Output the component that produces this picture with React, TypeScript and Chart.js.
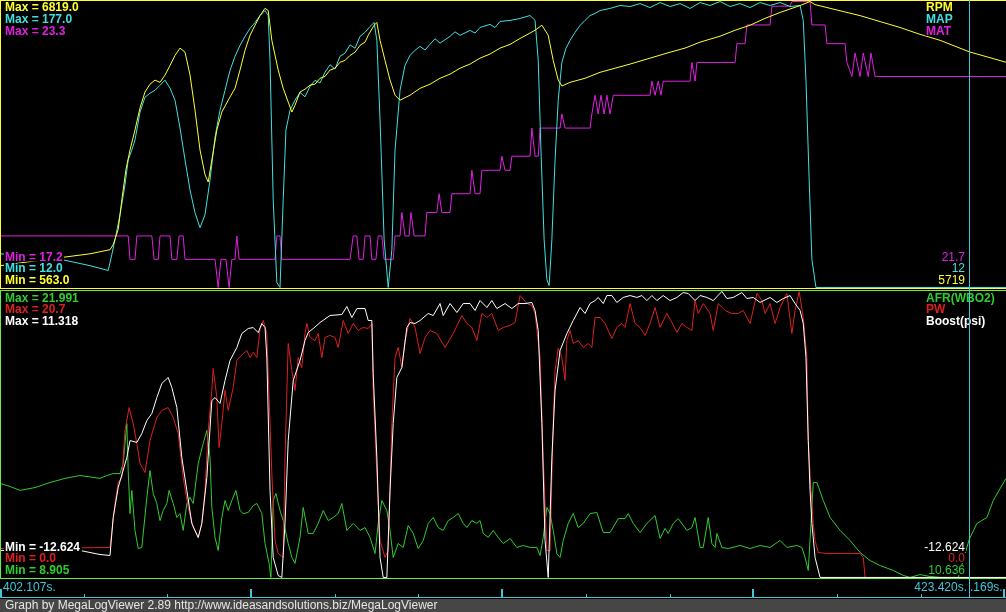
import { useEffect, useRef } from "react";
import { Chart, registerables } from "chart.js";

Chart.register(...registerables);

// ---------- time base (seconds since log window start) ----------
const startTime = 402.107;
const endTime = 424.169;
const cursorTime = 21.313; // 423.420 s
const windowSpan = 22.13;
const minorTickStep = 1.841;
const majorEvery = 3;

// ---------- scale limits shown in the labels ----------
const rpmRange = [563.0, 6819.0];
const mapRange = [12.0, 177.0];
const matRange = [17.2, 23.3];
const afrRange = [8.905, 21.991];
const pwRange = [0.0, 20.7];
const boostRange = [-12.624, 11.318];

// values at cursor
const cursorTop = ["21.7", "12", "5719"];
const cursorBottom = ["-12.624", "0.0", "10.636"];

// ---------- series: [time s, value] ----------
const rpm: [number, number][] = [
  [0, 1040], [0.66, 1130], [1.36, 1220], [1.98, 1300], [2.42, 1390], [2.49, 1500], [2.6, 1830], [2.68, 2480],
  [2.77, 3140], [2.86, 3570], [2.97, 4010], [3.08, 4490], [3.19, 4840], [3.3, 5010], [3.41, 5100], [3.52, 5050],
  [3.63, 5210], [3.74, 5420], [3.85, 5640], [3.96, 5800], [4.07, 5710], [4.18, 5210], [4.29, 4440], [4.4, 3570],
  [4.51, 3030], [4.58, 2870], [4.66, 3350], [4.77, 4010], [4.88, 4400], [5.02, 4660], [5.17, 4920], [5.28, 5320],
  [5.39, 5750], [5.5, 6080], [5.61, 6300], [5.72, 6510], [5.83, 6670], [5.9, 6620], [5.98, 5970], [6.12, 5320],
  [6.23, 4920], [6.34, 4620], [6.42, 4400], [6.49, 4550], [6.6, 4840], [6.71, 4900], [6.82, 4990], [6.93, 5010],
  [7.04, 5140], [7.15, 5180], [7.26, 5320], [7.37, 5360], [7.48, 5490], [7.59, 5530], [7.7, 5640], [7.81, 5710],
  [7.92, 5860], [8.03, 5930], [8.1, 6080], [8.23, 6300], [8.29, 6360], [8.36, 5970], [8.47, 5530], [8.58, 5100],
  [8.69, 4770], [8.8, 4660], [9.02, 4770], [9.24, 4920], [9.46, 5010], [9.68, 5140], [9.9, 5230], [10.12, 5360],
  [10.34, 5450], [10.56, 5580], [10.78, 5670], [11.0, 5800], [11.22, 5880], [11.44, 6010], [11.77, 6190],
  [11.92, 6300], [12.06, 6080], [12.17, 5530], [12.28, 5100], [12.36, 4970], [12.54, 5050], [12.87, 5140],
  [13.2, 5270], [13.53, 5360], [13.86, 5450], [14.3, 5580], [14.74, 5710], [15.07, 5800], [15.4, 5930],
  [15.84, 6060], [16.17, 6190], [16.5, 6300], [16.83, 6450], [17.16, 6580], [17.6, 6730], [17.82, 6819],
  [17.93, 6750], [18.26, 6670], [18.92, 6510], [19.36, 6380], [19.8, 6250], [20.24, 6100], [20.68, 5970],
  [21.32, 5719], [22.13, 5490],
];

const map: [number, number][] = [
  [0, 31.5], [0.66, 29.8], [1.36, 28.1], [1.98, 24.6], [2.38, 21.8], [2.46, 31.0], [2.53, 39.6], [2.64, 54.0],
  [2.75, 71.2], [2.82, 85.6], [2.9, 91.3], [2.97, 97.1], [3.08, 113.2], [3.19, 121.8], [3.3, 124.1], [3.41, 125.8],
  [3.52, 128.7], [3.63, 131.6], [3.74, 127.0], [3.85, 120.1], [3.96, 104.0], [4.07, 85.6], [4.18, 68.3],
  [4.29, 55.1], [4.4, 46.5], [4.51, 54.0], [4.62, 74.1], [4.73, 98.8], [4.84, 114.3], [4.95, 125.8],
  [5.06, 137.3], [5.17, 145.4], [5.28, 151.7], [5.39, 156.9], [5.5, 161.5], [5.61, 164.9], [5.72, 168.9],
  [5.83, 171.8], [5.9, 168.9], [5.94, 143.1], [6.01, 62.6], [6.09, 14.9], [6.16, 12.0], [6.23, 62.6],
  [6.29, 102.8], [6.38, 114.3], [6.49, 120.1], [6.6, 124.5], [6.71, 122.0], [6.82, 128.1], [6.93, 131.5],
  [7.04, 130.0], [7.15, 136.2], [7.26, 140.5], [7.37, 138.0], [7.48, 145.4], [7.59, 147.2], [7.7, 152.0],
  [7.81, 150.0], [7.92, 156.9], [8.03, 159.2], [8.14, 162.6], [8.23, 164.9], [8.29, 154.6], [8.36, 108.6],
  [8.45, 39.6], [8.54, 12.0], [8.62, 33.8], [8.69, 91.3], [8.8, 125.8], [8.91, 140.2], [9.02, 146.0],
  [9.13, 148.8], [9.24, 151.1], [9.35, 149.0], [9.46, 152.3], [9.57, 155.5], [9.68, 153.0], [9.9, 156.9],
  [10.01, 159.5], [10.12, 157.5], [10.34, 160.3], [10.45, 158.8], [10.56, 162.0], [10.78, 163.8], [10.89, 162.0],
  [11.0, 165.5], [11.22, 166.1], [11.44, 167.2], [11.66, 168.9], [11.77, 166.1], [11.84, 143.1], [11.9, 91.3],
  [11.97, 39.6], [12.03, 16.6], [12.08, 13.1], [12.14, 39.6], [12.21, 85.6], [12.28, 120.1], [12.36, 141.9],
  [12.45, 150.0], [12.54, 154.6], [12.65, 159.2], [12.76, 163.2], [12.87, 166.1], [12.98, 168.9], [13.09, 170.1],
  [13.2, 171.8], [13.42, 173.0], [13.64, 174.7], [13.86, 174.1], [14.08, 175.8], [14.3, 173.5], [14.52, 176.4],
  [14.74, 174.1], [14.96, 175.8], [15.18, 173.0], [15.4, 176.4], [15.62, 174.7], [15.84, 177.0], [16.06, 174.1],
  [16.28, 175.8], [16.5, 173.5], [16.72, 176.4], [16.94, 174.7], [17.16, 176.4], [17.38, 174.1], [17.6, 174.7],
  [17.67, 166.1], [17.73, 131.6], [17.8, 74.1], [17.86, 28.1], [17.95, 12.0], [22.13, 12.0],
];

const mat: [number, number][] = [
  [0, 18.3], [2.82, 18.3], [2.86, 17.8], [2.97, 17.8], [3.01, 18.3], [3.34, 18.3], [3.39, 17.8], [3.48, 17.8],
  [3.52, 18.3], [3.74, 18.3], [3.78, 17.8], [3.89, 17.8], [3.94, 18.3], [4.03, 18.3], [4.07, 17.8], [4.73, 17.8],
  [4.8, 17.2], [4.86, 17.8], [4.97, 17.8], [5.04, 17.2], [5.1, 17.8], [5.17, 17.8], [5.21, 18.3], [5.26, 17.8],
  [6.05, 17.8], [6.09, 18.3], [6.16, 18.3], [6.2, 17.8], [7.7, 17.8], [7.77, 18.3], [7.85, 18.3], [7.9, 17.8],
  [7.99, 17.8], [8.03, 18.3], [8.14, 18.3], [8.18, 17.8], [8.27, 17.8], [8.32, 18.3], [8.4, 18.3], [8.45, 17.8],
  [8.65, 17.8], [8.69, 18.3], [8.8, 18.3], [8.84, 18.8], [8.91, 18.3], [9.0, 18.3], [9.04, 18.8], [9.11, 18.3],
  [9.35, 18.3], [9.39, 18.8], [9.61, 18.8], [9.66, 19.2], [9.72, 18.8], [9.9, 18.8], [9.94, 19.2], [10.34, 19.2],
  [10.38, 19.7], [10.45, 19.2], [10.56, 19.2], [10.6, 19.7], [11.0, 19.7], [11.04, 20.0], [11.11, 19.7],
  [11.22, 19.7], [11.26, 20.0], [11.66, 20.0], [11.7, 20.6], [11.77, 20.0], [11.84, 20.0], [11.88, 20.6],
  [12.32, 20.6], [12.36, 20.9], [12.43, 20.6], [12.98, 20.6], [13.02, 20.9], [13.09, 21.3], [13.16, 20.9],
  [13.22, 21.3], [13.29, 20.9], [13.35, 21.3], [13.42, 20.9], [13.49, 21.3], [14.3, 21.3], [14.34, 21.6],
  [14.41, 21.3], [14.48, 21.6], [14.54, 21.3], [14.59, 21.6], [15.18, 21.6], [15.22, 22.0], [15.29, 21.6],
  [15.33, 22.0], [16.17, 22.0], [16.21, 22.4], [16.39, 22.4], [16.43, 22.8], [16.94, 22.8], [16.98, 23.2],
  [17.38, 23.2], [17.42, 23.3], [17.82, 23.3], [17.86, 22.8], [18.15, 22.8], [18.19, 22.4], [18.59, 22.4],
  [18.63, 22.0], [18.74, 21.7], [18.81, 22.2], [18.92, 21.7], [18.99, 22.2], [19.1, 21.7], [19.16, 22.2],
  [19.25, 21.7], [22.13, 21.7],
];

const afr: [number, number][] = [
  [0, 13.21], [0.22, 13.07], [0.44, 12.89], [0.77, 13.02], [1.1, 13.25], [1.43, 13.44], [1.76, 13.57],
  [2.2, 13.44], [2.35, 13.57], [2.49, 13.66], [2.64, 13.66], [2.71, 14.12], [2.79, 15.95], [2.82, 13.8],
  [2.86, 11.83], [2.9, 12.89], [2.97, 11.06], [3.04, 10.23], [3.12, 10.28], [3.23, 12.57], [3.3, 13.8],
  [3.37, 12.75], [3.45, 12.29], [3.52, 11.51], [3.59, 11.97], [3.67, 12.29], [3.72, 12.89], [3.81, 12.29],
  [3.89, 11.65], [3.96, 11.83], [4.03, 11.06], [4.11, 12.29], [4.18, 12.57], [4.25, 12.29], [4.36, 14.12],
  [4.47, 15.04], [4.55, 15.63], [4.62, 14.4], [4.66, 12.11], [4.73, 10.74], [4.8, 10.14], [4.88, 11.65],
  [4.95, 12.43], [5.02, 11.97], [5.1, 12.43], [5.19, 12.89], [5.28, 11.97], [5.35, 11.83], [5.46, 11.88],
  [5.57, 12.2], [5.65, 12.29], [5.76, 11.83], [5.83, 10.46], [5.92, 9.55], [5.96, 8.91], [6.01, 12.43],
  [6.07, 12.75], [6.16, 11.97], [6.23, 11.51], [6.34, 10.46], [6.42, 9.82], [6.49, 9.55], [6.6, 10.74],
  [6.67, 12.11], [6.78, 10.92], [6.89, 10.92], [7.0, 11.38], [7.11, 11.97], [7.22, 11.51], [7.33, 11.65],
  [7.44, 11.83], [7.52, 12.29], [7.63, 11.06], [7.77, 11.38], [7.92, 11.06], [8.03, 11.19], [8.14, 10.74],
  [8.25, 10.0], [8.32, 11.38], [8.4, 12.43], [8.51, 11.97], [8.58, 11.06], [8.65, 9.82], [8.76, 10.46],
  [8.87, 10.28], [8.98, 11.28], [9.09, 10.92], [9.2, 10.23], [9.31, 10.6], [9.42, 11.38], [9.53, 11.65],
  [9.64, 11.19], [9.75, 11.06], [9.86, 11.51], [9.97, 11.65], [10.08, 11.83], [10.19, 11.38], [10.27, 11.19],
  [10.38, 11.51], [10.49, 11.38], [10.56, 11.51], [10.63, 10.92], [10.74, 10.74], [10.85, 11.06], [10.96, 10.74],
  [11.07, 10.46], [11.22, 10.69], [11.37, 10.28], [11.51, 10.37], [11.66, 10.28], [11.81, 10.28], [11.88, 9.91],
  [11.95, 10.74], [12.03, 12.11], [12.1, 11.83], [12.17, 11.06], [12.25, 10.0], [12.32, 9.82], [12.39, 10.6],
  [12.5, 11.38], [12.61, 11.83], [12.72, 11.19], [12.83, 11.38], [12.98, 11.83], [13.13, 11.88], [13.27, 10.96],
  [13.42, 10.96], [13.6, 11.6], [13.75, 11.6], [13.82, 11.83], [13.93, 11.38], [14.08, 10.96], [14.23, 11.38],
  [14.41, 11.74], [14.52, 10.69], [14.63, 11.15], [14.7, 10.92], [14.81, 11.38], [14.92, 11.6], [15.11, 11.06],
  [15.22, 11.19], [15.29, 11.65], [15.4, 10.28], [15.47, 10.28], [15.58, 11.65], [15.66, 10.46], [15.73, 10.28],
  [15.77, 10.92], [15.88, 10.28], [16.02, 10.23], [16.28, 10.37], [16.5, 10.23], [16.72, 10.37], [16.94, 10.28],
  [17.16, 10.6], [17.31, 10.28], [17.53, 10.37], [17.64, 10.28], [17.71, 9.82], [17.78, 9.23], [17.84, 11.38],
  [17.89, 13.25], [17.97, 13.25], [18.11, 12.43], [18.26, 11.65], [18.48, 11.06], [18.7, 10.6], [18.92, 10.05],
  [19.14, 9.68], [19.36, 9.45], [19.65, 9.23], [19.87, 9.0], [20.02, 8.91], [20.24, 9.04], [20.46, 8.95],
  [20.68, 8.91], [21.08, 8.91], [21.32, 10.64], [21.49, 11.38], [21.71, 11.65], [21.85, 12.43], [22.13, 13.44],
];

const pw: [number, number][] = [
  [0, 2.1], [2.42, 2.17], [2.53, 5.36], [2.6, 6.88], [2.68, 7.24], [2.75, 10.64], [2.84, 12.3], [2.93, 11.15],
  [3.01, 9.7], [3.08, 8.25], [3.19, 7.6], [3.3, 9.92], [3.45, 11.58], [3.56, 12.09], [3.7, 12.3], [3.81, 11.58],
  [3.92, 10.42], [4.03, 7.24], [4.14, 5.07], [4.25, 3.62], [4.36, 2.9], [4.44, 3.91], [4.51, 6.3], [4.58, 10.64],
  [4.66, 13.54], [4.69, 15.13], [4.77, 13.03], [4.82, 9.41], [4.88, 11.15], [4.95, 13.54], [5.02, 12.09],
  [5.13, 13.75], [5.21, 15.71], [5.35, 16.21], [5.43, 16.43], [5.5, 15.92], [5.57, 16.29], [5.65, 15.92],
  [5.72, 18.02], [5.79, 18.6], [5.87, 17.66], [5.9, 14.77], [5.98, 7.53], [6.05, 2.68], [6.12, 1.74],
  [6.23, 1.45], [6.27, 8.69], [6.34, 16.94], [6.42, 14.98], [6.49, 13.54], [6.56, 15.92], [6.64, 15.2],
  [6.71, 17.66], [6.75, 18.38], [6.82, 17.37], [6.93, 17.15], [7.0, 17.66], [7.08, 15.92], [7.15, 17.37],
  [7.26, 17.52], [7.37, 17.37], [7.44, 16.65], [7.55, 18.6], [7.66, 17.66], [7.77, 18.38], [7.88, 17.88],
  [7.99, 18.1], [8.1, 18.02], [8.18, 18.38], [8.21, 13.54], [8.29, 7.53], [8.36, 2.68], [8.47, 1.45],
  [8.54, 1.95], [8.62, 11.15], [8.69, 15.92], [8.76, 16.65], [8.84, 15.2], [8.91, 17.15], [9.02, 18.75],
  [9.13, 18.1], [9.24, 16.21], [9.35, 17.37], [9.46, 17.88], [9.61, 17.66], [9.79, 16.65], [9.97, 17.66],
  [10.16, 18.96], [10.27, 18.38], [10.38, 18.1], [10.49, 17.15], [10.6, 19.11], [10.71, 18.82], [10.82, 19.11],
  [10.96, 17.88], [11.07, 18.1], [11.22, 18.24], [11.33, 18.46], [11.44, 20.41], [11.59, 19.83], [11.7, 19.69],
  [11.77, 19.11], [11.88, 15.92], [11.95, 8.69], [12.03, 1.95], [12.1, 1.95], [12.17, 11.15], [12.21, 14.98],
  [12.28, 16.58], [12.36, 15.92], [12.43, 14.26], [12.47, 17.15], [12.54, 17.88], [12.61, 16.94], [12.72, 17.15],
  [12.83, 16.65], [12.94, 16.94], [13.02, 16.65], [13.09, 18.82], [13.2, 18.82], [13.31, 18.38], [13.46, 17.3],
  [13.57, 18.1], [13.68, 18.38], [13.75, 18.1], [13.86, 19.83], [13.97, 18.38], [14.08, 18.1], [14.19, 17.52],
  [14.3, 18.38], [14.41, 19.54], [14.52, 18.1], [14.67, 19.11], [14.78, 18.46], [14.89, 17.73], [15.0, 18.38],
  [15.11, 18.1], [15.22, 17.88], [15.29, 20.05], [15.36, 19.11], [15.47, 19.83], [15.62, 19.11], [15.69, 17.88],
  [15.8, 19.83], [15.95, 19.33], [16.1, 19.11], [16.24, 19.11], [16.35, 19.33], [16.5, 18.38], [16.65, 20.56],
  [16.76, 20.05], [16.83, 19.11], [16.94, 19.83], [17.05, 18.38], [17.16, 19.54], [17.31, 20.56], [17.42, 17.66],
  [17.49, 19.33], [17.58, 20.7], [17.67, 18.82], [17.75, 15.92], [17.78, 9.92], [17.84, 6.3], [17.89, 3.91],
  [17.93, 2.68], [18.0, 1.81], [18.19, 1.74], [18.92, 1.74], [18.99, 1.45], [19.03, 0], [22.13, 0],
];

const boost: [number, number][] = [
  [0, -10.36], [1.76, -10.36], [2.2, -10.7], [2.42, -10.78], [2.49, -7.6], [2.6, -5.09], [2.79, -2.58],
  [2.86, -1.16], [3.01, -1.32], [3.12, -0.57], [3.23, 0.52], [3.34, 1.1], [3.45, 2.44], [3.56, 3.62],
  [3.7, 4.12], [3.78, 3.28], [3.89, 1.61], [4.0, -2.58], [4.11, -5.34], [4.22, -8.1], [4.36, -9.28],
  [4.44, -8.1], [4.55, -4.25], [4.66, 2.19], [4.73, 2.44], [4.84, 1.94], [4.95, 3.87], [5.06, 5.54],
  [5.21, 6.63], [5.32, 7.8], [5.46, 8.22], [5.57, 8.3], [5.68, 7.88], [5.76, 8.64], [5.83, 8.3], [5.87, 5.79],
  [5.94, -5.34], [6.01, -10.95], [6.12, -12.46], [6.2, -12.62], [6.27, -8.1], [6.34, -1.16], [6.45, 3.87],
  [6.6, 5.54], [6.71, 7.22], [6.78, 7.88], [6.89, 8.22], [7.04, 8.72], [7.26, 9.31], [7.52, 9.39], [7.63, 10.06],
  [7.74, 9.14], [7.85, 9.89], [8.03, 9.89], [8.1, 8.89], [8.18, 8.89], [8.21, 4.45], [8.29, -2.58],
  [8.36, -10.95], [8.43, -12.62], [8.51, -12.62], [8.58, -5.34], [8.65, 0.27], [8.73, 4.12], [8.84, 4.96],
  [8.95, 8.3], [9.02, 8.72], [9.13, 8.64], [9.24, 8.89], [9.42, 9.48], [9.53, 9.31], [9.68, 10.31],
  [9.75, 9.31], [9.9, 10.31], [10.05, 9.56], [10.19, 10.31], [10.34, 10.31], [10.45, 9.73], [10.56, 10.56],
  [10.71, 9.98], [10.82, 10.56], [10.93, 9.89], [11.11, 10.31], [11.26, 9.89], [11.4, 10.31], [11.55, 10.31],
  [11.7, 10.4], [11.77, 9.73], [11.84, 8.05], [11.92, 0.27], [11.99, -9.53], [12.06, -12.62], [12.14, -2.58],
  [12.21, 3.03], [12.32, 6.38], [12.47, 7.8], [12.61, 8.89], [12.76, 9.98], [12.87, 9.48], [12.98, 10.31],
  [13.09, 10.56], [13.16, 10.82], [13.27, 10.31], [13.35, 10.98], [13.46, 10.98], [13.57, 10.4], [13.71, 10.82],
  [13.86, 10.98], [14.01, 10.82], [14.12, 10.98], [14.23, 10.56], [14.34, 10.98], [14.45, 10.56], [14.59, 10.98],
  [14.74, 10.56], [14.89, 10.82], [15.03, 11.23], [15.14, 11.15], [15.29, 10.56], [15.4, 10.98], [15.55, 10.82],
  [15.69, 10.56], [15.88, 11.32], [15.99, 10.73], [16.13, 10.82], [16.32, 11.23], [16.43, 10.73], [16.57, 10.82],
  [16.72, 10.4], [16.94, 10.82], [17.09, 10.4], [17.23, 10.73], [17.38, 10.98], [17.49, 10.31], [17.6, 9.73],
  [17.67, 8.64], [17.73, 5.79], [17.78, -1.16], [17.82, -5.34], [17.86, -8.1], [17.93, -10.95], [18.04, -12.62],
  [22.13, -12.62],
];

// ---------- look ----------
const W = 1006;
const H = 612;
const FONT = '"Liberation Sans", Arial, sans-serif';
const C = {
  yellow: "#ffff30",
  cyan: "#40e0e0",
  magenta: "#e020e0",
  green: "#30cc30",
  red: "#dd2020",
  white: "#ffffff",
  panel2: "#66ee44",
  axis: "#40c8d8",
  footer: "#464646",
  footerText: "#e6e6e6",
};

function panelAxis(lo: number, hi: number, pxTop: number, pxBottom: number) {
  const u = (hi - lo) / (pxBottom - pxTop);
  const max = hi + pxTop * u;
  return { type: "linear" as const, display: false, min: max - H * u, max };
}

const fmt = (v: number, d: number) => v.toFixed(d);

function drawLabel(
  ctx: CanvasRenderingContext2D,
  text: string,
  x: number,
  y: number,
  color: string,
  bold: boolean,
  align: "left" | "right" = "left"
) {
  ctx.font = `${bold ? "bold " : ""}12px ${FONT}`;
  const w = ctx.measureText(text).width;
  const left = align === "right" ? x - w : x;
  ctx.fillStyle = "#000";
  ctx.fillRect(Math.floor(left) - 1, y - 9, Math.ceil(w) + 2, 10);
  ctx.fillStyle = color;
  ctx.textAlign = "left";
  ctx.textBaseline = "alphabetic";
  ctx.fillText(text, left, y);
}

const mlvPlugin = {
  id: "mlvDecor",
  beforeDraw(chart: any) {
    const ctx: CanvasRenderingContext2D = chart.ctx;
    ctx.save();
    ctx.fillStyle = "#000";
    ctx.fillRect(0, 0, W, H);
    ctx.fillStyle = C.footer;
    ctx.fillRect(0, 599, W, H - 599);
    ctx.restore();
  },
  afterDatasetsDraw(chart: any) {
    const ctx: CanvasRenderingContext2D = chart.ctx;
    const xs = chart.scales.x;
    ctx.save();

    // panel borders
    ctx.fillStyle = C.yellow;
    ctx.fillRect(0, 0, W, 1);
    ctx.fillRect(0, 0, 1, 289);
    ctx.fillRect(0, 288, W, 1);
    ctx.fillStyle = C.panel2;
    ctx.fillRect(0, 290, W, 1);
    ctx.fillRect(0, 290, 1, 289);
    ctx.fillRect(0, 578, W, 1);

    // top panel labels
    drawLabel(ctx, `Max = ${fmt(rpmRange[1], 1)}`, 5, 11, C.yellow, true);
    drawLabel(ctx, `Max = ${fmt(mapRange[1], 1)}`, 5, 23, C.cyan, true);
    drawLabel(ctx, `Max = ${fmt(matRange[1], 1)}`, 5, 34.5, C.magenta, true);
    drawLabel(ctx, "RPM", 926, 11, C.yellow, true);
    drawLabel(ctx, "MAP", 926, 23, C.cyan, true);
    drawLabel(ctx, "MAT", 926, 34.5, C.magenta, true);
    drawLabel(ctx, `Min = ${fmt(matRange[0], 1)}`, 5, 260.5, C.magenta, true);
    drawLabel(ctx, `Min = ${fmt(mapRange[0], 1)}`, 5, 272.3, C.cyan, true);
    drawLabel(ctx, `Min = ${fmt(rpmRange[0], 1)}`, 5, 284, C.yellow, true);
    drawLabel(ctx, cursorTop[0], 965, 260.5, C.magenta, false, "right");
    drawLabel(ctx, cursorTop[1], 965, 272.3, C.cyan, false, "right");
    drawLabel(ctx, cursorTop[2], 965, 284, C.yellow, false, "right");

    // bottom panel labels
    drawLabel(ctx, `Max = ${fmt(afrRange[1], 3)}`, 5, 301.7, C.green, true);
    drawLabel(ctx, `Max = ${fmt(pwRange[1], 1)}`, 5, 313.3, C.red, true);
    drawLabel(ctx, `Max = ${fmt(boostRange[1], 3)}`, 5, 325, C.white, true);
    drawLabel(ctx, "AFR(WBO2)", 926, 301.7, C.green, true);
    drawLabel(ctx, "PW", 926, 313.3, C.red, true);
    drawLabel(ctx, "Boost(psi)", 926, 325, C.white, true);
    drawLabel(ctx, `Min = ${fmt(boostRange[0], 3)}`, 5, 550.5, C.white, true);
    drawLabel(ctx, `Min = ${fmt(pwRange[0], 1)}`, 5, 562, C.red, true);
    drawLabel(ctx, `Min = ${fmt(afrRange[0], 3)}`, 5, 574, C.green, true);
    drawLabel(ctx, cursorBottom[0], 965, 551, C.white, false, "right");
    drawLabel(ctx, cursorBottom[1], 965, 562, C.red, false, "right");
    drawLabel(ctx, cursorBottom[2], 965, 574, C.green, false, "right");

    // time strip
    ctx.fillStyle = C.axis;
    ctx.fillRect(0, 597, W, 1);
    let k = 0;
    for (let t = 0; t <= windowSpan + 0.05; t += minorTickStep, k++) {
      const px = Math.min(W - 1, Math.round(xs.getPixelForValue(t)));
      const major = k % majorEvery === 0;
      if (major) ctx.fillRect(Math.max(0, Math.min(W - 2, px - 1)), 589, 2, 8);
      else ctx.fillRect(px, 594, 1, 3);
    }
    const cx = Math.round(xs.getPixelForValue(cursorTime));
    drawLabel(ctx, `${startTime.toFixed(3)}s.`, 3, 591, C.axis, false);
    // end-of-window time, partly covered by the cursor time label
    ctx.font = `12px ${FONT}`;
    const endText = `${endTime.toFixed(3)}s.`;
    const hiddenW = ctx.measureText(endText.slice(0, 3)).width;
    drawLabel(ctx, endText, cx + 1 - hiddenW, 591, C.axis, false);
    ctx.fillStyle = "#000";
    ctx.fillRect(cx - 60, 580, 61, 14);
    drawLabel(ctx, `${(startTime + cursorTime).toFixed(3)}s.`, cx - 2, 591, C.axis, false, "right");

    // cursor
    ctx.fillStyle = C.axis;
    ctx.fillRect(cx, 0, 1, 597);

    // footer
    ctx.font = `12px ${FONT}`;
    ctx.fillStyle = C.footerText;
    ctx.textAlign = "left";
    ctx.fillText("Graph by MegaLogViewer 2.89 http://www.ideasandsolutions.biz/MegaLogViewer", 5, 609);
    ctx.restore();
  },
};

const toXY = (s: [number, number][]) => s.map(([x, y]) => ({ x, y }));

export default function App() {
  const ref = useRef<HTMLCanvasElement | null>(null);

  useEffect(() => {
    if (!ref.current) return;
    const line = (data: [number, number][], color: string, axis: string, order: number) => ({
      data: toXY(data),
      borderColor: color,
      borderWidth: 1,
      pointRadius: 0,
      tension: 0,
      fill: false,
      yAxisID: axis,
      order,
    });
    const chart = new Chart(ref.current, {
      type: "line",
      data: {
        datasets: [
          line(mat, C.magenta, "yMat", 6),
          line(map, C.cyan, "yMap", 5),
          line(rpm, C.yellow, "yRpm", 4),
          line(afr, C.green, "yAfr", 3),
          line(pw, C.red, "yPw", 2),
          line(boost, C.white, "yBoost", 1),
        ] as any,
      },
      options: {
        animation: false,
        responsive: false,
        maintainAspectRatio: false,
        devicePixelRatio: 1,
        events: [],
        layout: { padding: 0 },
        plugins: { legend: { display: false }, tooltip: { enabled: false }, title: { display: false } },
        scales: {
          x: { type: "linear", display: false, min: 0, max: windowSpan },
          yRpm: panelAxis(rpmRange[0], rpmRange[1], 1.5, 287.5),
          yMap: panelAxis(mapRange[0], mapRange[1], 1.5, 287.5),
          yMat: panelAxis(matRange[0], matRange[1], 1.5, 287.5),
          yAfr: panelAxis(afrRange[0], afrRange[1], 291.5, 577.5),
          yPw: panelAxis(pwRange[0], pwRange[1], 291.5, 577.5),
          yBoost: panelAxis(boostRange[0], boostRange[1], 291.5, 577.5),
        },
      } as any,
      plugins: [mlvPlugin],
    });
    return () => chart.destroy();
  }, []);

  return (
    <div style={{ position: "absolute", left: 0, top: 0, width: W, height: H, background: "#000" }}>
      <canvas ref={ref} width={W} height={H} style={{ display: "block" }} />
    </div>
  );
}
